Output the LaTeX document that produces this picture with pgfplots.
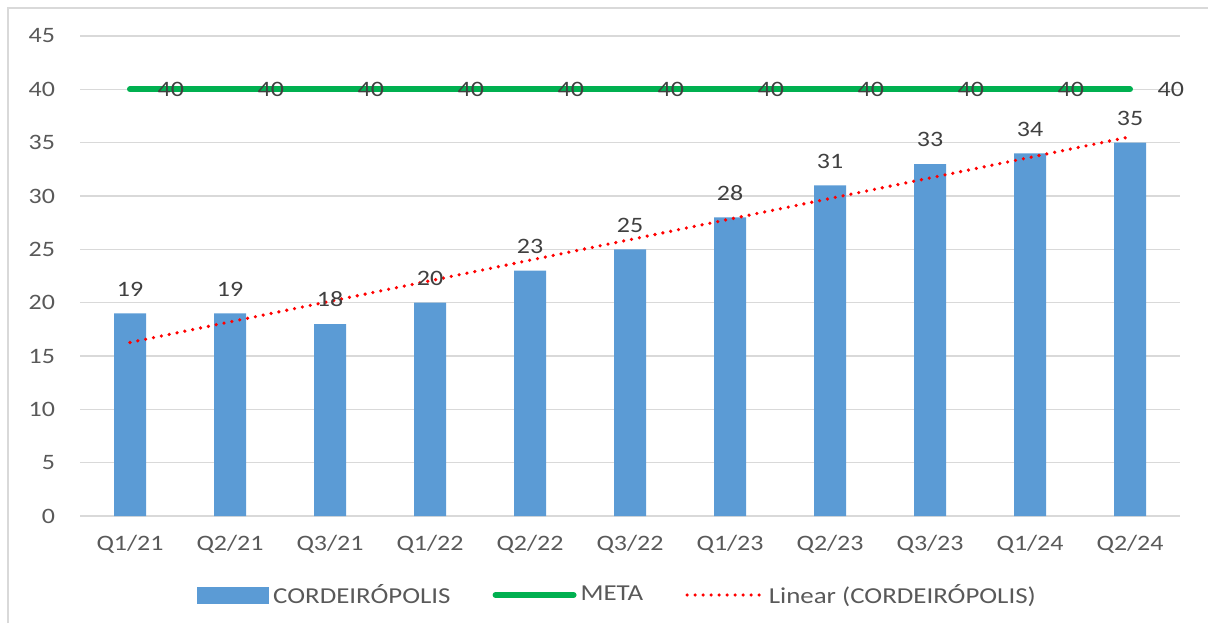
\documentclass[border=0pt]{standalone}
\usepackage{fontspec}
\setmainfont[FakeStretch=1.18]{Carlito}
\usepackage{pgfplots}
\pgfplotsset{compat=1.18}
\definecolor{barblue}{HTML}{5B9BD5}
\definecolor{metagreen}{HTML}{00B050}
\definecolor{gridgray}{HTML}{D9D9D9}
\definecolor{ticktext}{HTML}{595959}
\definecolor{labeltext}{HTML}{404040}
\begin{document}
\begin{tikzpicture}
\path[use as bounding box] (0,0) rectangle (604pt,311.5pt);
\draw[gridgray, line width=0.75pt] (4pt,0) -- (4pt,307.5pt) -- (604pt,307.5pt);
\begin{axis}[
  at={(40pt,53.5pt)}, anchor=south west,
  width=550pt, height=240pt, scale only axis,
  xmin=-0.5, xmax=10.5, ymin=0, ymax=45,
  ytick={0,5,...,45},
  xtick={0,...,10},
  xticklabels={Q1/21,Q2/21,Q3/21,Q1/22,Q2/22,Q3/22,Q1/23,Q2/23,Q3/23,Q1/24,Q2/24},
  axis line style={draw=none},
  major tick length=0pt,
  ymajorgrids, grid style={gridgray, line width=0.75pt},
  tick label style={font=\fontsize{11}{13}\selectfont, text=ticktext},
  /pgf/number format/assume math mode=true,
  xticklabel style={yshift=-6pt},
  yticklabel style={xshift=-9pt},
  clip=false,
  legend columns=3,
  legend style={draw=none, fill=none, at={(0.4896,-0.1646)}, anchor=center,
    font=\fontsize{11.4}{13}\selectfont, text=ticktext,
    /tikz/every even column/.append style={column sep=19pt}},
]
\addplot[ybar, bar width=16pt, fill=barblue, draw=none,
  nodes near coords,
  every node near coord/.append style={font=\fontsize{11}{13}\selectfont, text=labeltext, yshift=5pt},
  legend image code/.code={\fill[barblue] (0pt,-4.25pt) rectangle (36pt,4.25pt);}]
  coordinates {(0,19) (1,19) (2,18) (3,20) (4,23) (5,25) (6,28) (7,31) (8,33) (9,34) (10,35)};
\addlegendentry{CORDEIRÓPOLIS}
\addplot[metagreen, line width=3pt, line cap=round, mark=none,
  nodes near coords,
  every node near coord/.append style={font=\fontsize{11}{13}\selectfont, text=labeltext, anchor=west, xshift=9pt, yshift=0pt},
  legend image code/.code={\draw[metagreen, line width=3pt, line cap=round] (0pt,0pt) -- (39pt,0pt);}]
  coordinates {(0,40) (1,40) (2,40) (3,40) (4,40) (5,40) (6,40) (7,40) (8,40) (9,40) (10,40)};
\addlegendentry{META}
\addplot[red, line width=1.8pt, line cap=round, dash pattern=on 0pt off 4pt, mark=none,
  legend image code/.code={\draw[red, line width=1.8pt, line cap=round, dash pattern=on 0pt off 4pt] (0pt,0pt) -- (38pt,0pt);}]
  coordinates {(0,16.27) (10,35.55)};
\addlegendentry{Linear (CORDEIRÓPOLIS)}
\end{axis}
\end{tikzpicture}
\end{document}
